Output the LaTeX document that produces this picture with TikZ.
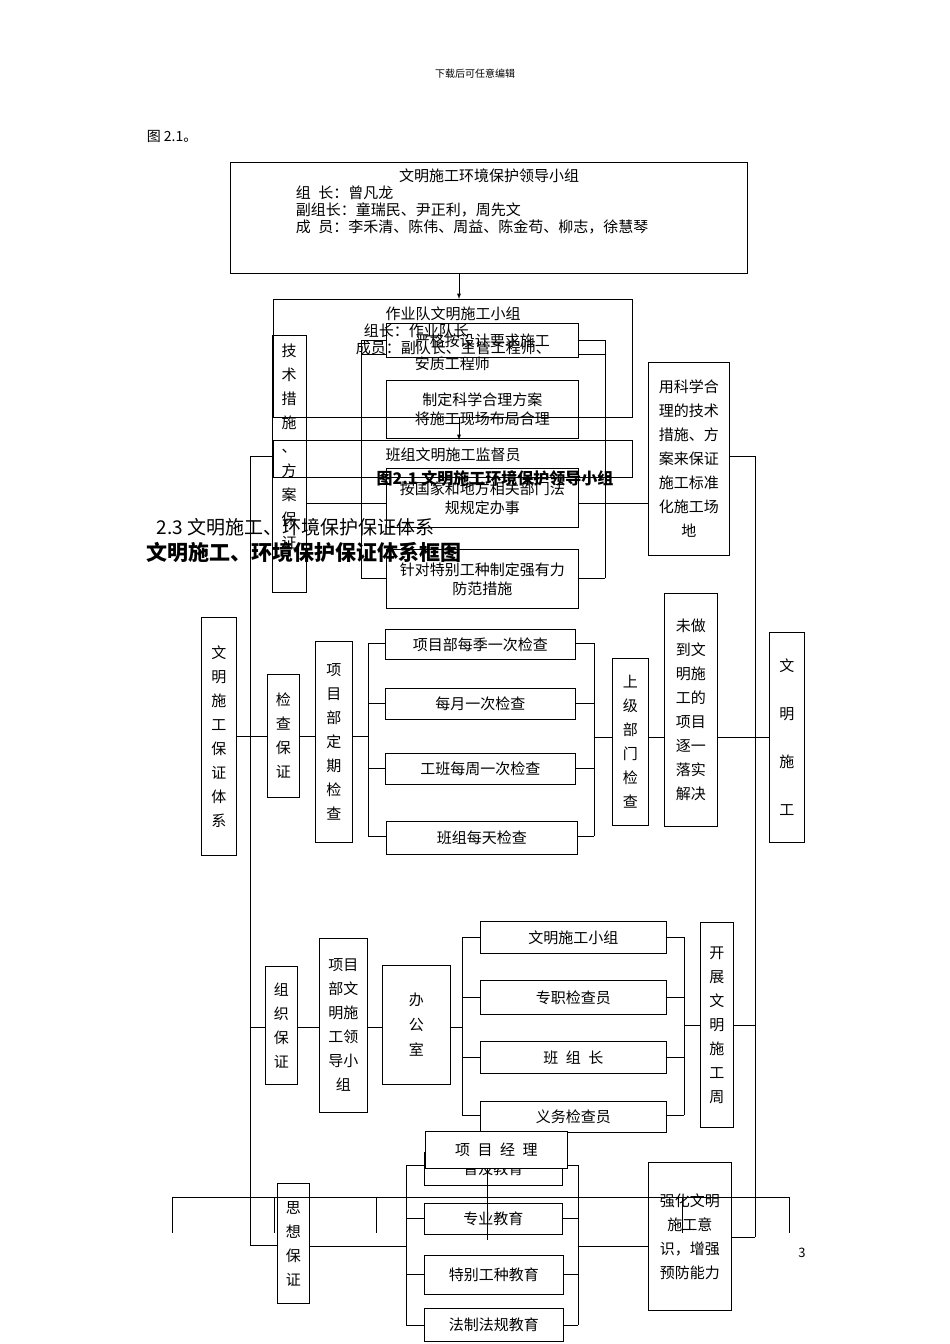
\documentclass[tikz,border=0pt]{standalone}
\usepackage{fontspec}
\setmainfont{Noto Sans CJK SC}
\begin{document}
\begin{tikzpicture}[x=1pt,y=-1pt,line width=0.9pt,
  bx/.style={draw,anchor=north west,inner sep=0pt,align=center,font=\fontsize{15}{19}\selectfont},
  vb/.style={font=\fontsize{15}{24}\selectfont},
  ln/.style={draw}]
\useasboundingbox (0,0) rectangle (950,1344);
\newcommand\bxx[6]{\node[bx,minimum width={(#4-#2)*1pt},minimum height={(#5-#3)*1pt}] (#1) at (#2,#3) {#6};}
\newcommand\vbx[6]{\node[bx,vb,minimum width={(#4-#2)*1pt},minimum height={(#5-#3)*1pt}] (#1) at (#2,#3) {#6};}
\node[font=\fontsize{10}{12}\selectfont] (hd) at (475,74) {下载后可任意编辑};
\node[anchor=west,font=\fontsize{14}{16}\selectfont] (fig) at (143,136) {图 2.1。};
% top leadership
\bxx{A}{230}{162}{747}{273}{}
\node[font=\fontsize{15}{17}\selectfont] (At) at (489,176) {文明施工环境保护领导小组};
\node[anchor=west,font=\fontsize{15}{17}\selectfont,align=left] (Al) at (292,210) {组\enspace 长：曾凡龙\\副组长：童瑞民、尹正利，周先文\\成\enspace 员：李禾清、陈伟、周益、陈金苟、柳志，徐慧琴};
\bxx{B}{273}{299}{632}{417}{}
\node[font=\fontsize{15}{17}\selectfont] (Bt) at (453,314) {作业队文明施工小组};
\node[anchor=west,font=\fontsize{15}{17}\selectfont] (Bl1) at (360,331) {组长：作业队长};
\node[anchor=west,font=\fontsize{15}{17}\selectfont] (Bl2) at (352,348) {成员：副队长、主管工程师、};
\node[anchor=west,font=\fontsize{15}{17}\selectfont] (Bl3) at (411,364) {安质工程师};
\draw[-latex] (A.south -| 459,0) -- (B.north -| 459,0);
\bxx{C}{273}{440}{632}{477}{}
\node[font=\fontsize{15}{17}\selectfont] (Ct) at (453,455) {班组文明施工监督员};
\draw[-latex] (B.south -| 459,0) -- (C.north -| 459,0);
\node[font=\bfseries\fontsize{16}{18}\selectfont] (cap) at (495,478) {图2.1 文明施工环境保护领导小组};
\node[anchor=west,font=\fontsize{19}{21}\selectfont] (h23) at (153,527) {2.3 文明施工、环境保护保证体系};
\node[anchor=west,font=\bfseries\fontsize{21}{23}\selectfont] (h2) at (143,552) {文明施工、环境保护保证体系框图};
% spines
\coordinate (L1) at (250,456); \coordinate (L2) at (250,1245);
\coordinate (R1) at (755,456); \coordinate (R2) at (755,1237);
\draw (L1) -- (L2); \draw (R1) -- (R2);
\vbx{W}{201}{617}{236}{855}{文\\明\\施\\工\\保\\证\\体\\系}
\vbx{WR}{769}{632}{804}{842}{文\\[24pt]明\\[24pt]施\\[24pt]工}
\draw (W.east |- 0,736) -- (250,736);
\draw (WR.west |- 0,737) -- (755,737);
% row1
\node[bx,vb,minimum width=34pt,minimum height=257pt,anchor=north west,text depth=0pt] (T) at (272,335) {};
\node[vb,align=center,anchor=north] (Tt) at (289,340) {技\\术\\措\\施\\、\\方\\案\\保\\证};
\draw (L1) -- (T.west |- L1);
\bxx{T1}{386}{323}{578}{357}{严格按设计要求施工}
\bxx{T2}{386}{380}{578}{438}{制定科学合理方案\\将施工现场布局合理}
\bxx{T3}{386}{468}{578}{527}{按国家和地方相关部门法\\规规定办事}
\bxx{T4}{386}{549}{578}{608}{针对特别工种制定强有力\\防范措施}
\draw (361,340) -- (361,578) (T.east |- 0,503) -- (361,503);
\draw (605,340) -- (605,578);
\foreach \n/\y in {T1/340,T2/354,T3/503,T4/578}{\draw (361,\y) -- (\n.west |- 0,\y); \draw (\n.east |- 0,\y) -- (605,\y);}
\vbx{TR}{648}{362}{729}{555}{用科学合\\理的技术\\措施、方\\案来保证\\施工标准\\化施工场\\地}
\draw (605,503) -- (TR.west |- 0,503);
\draw (TR.east |- R1) -- (R1);
% row2
\vbx{J}{267}{674}{299}{797}{检\\查\\保\\证}
\vbx{JX}{315}{641}{352}{842}{项\\目\\部\\定\\期\\检\\查}
\draw (250,736) -- (J.west |- 0,736) (J.east |- 0,736) -- (JX.west |- 0,736) (JX.east |- 0,736) -- (368,736);
\bxx{J1}{385}{629}{575}{659}{项目部每季一次检查}
\bxx{J2}{385}{688}{575}{719}{每月一次检查}
\bxx{J3}{385}{753}{575}{784}{工班每周一次检查}
\bxx{J4}{386}{821}{577}{854}{班组每天检查}
\draw (368,643) -- (368,836) (594,643) -- (594,836);
\foreach \n/\y in {J1/643,J2/703,J3/768,J4/836}{\draw (368,\y) -- (\n.west |- 0,\y); \draw (\n.east |- 0,\y) -- (594,\y);}
\vbx{JS}{612}{658}{648}{825}{上\\级\\部\\门\\检\\查}
\vbx{JW}{664}{593}{717}{826}{未做\\到文\\明施\\工的\\项目\\逐一\\落实\\解决}
\draw (594,737) -- (JS.west |- 0,737) (JS.east |- 0,737) -- (JW.west |- 0,737) (JW.east |- 0,737) -- (755,737);
% row3
\vbx{Z}{265}{966}{297}{1084}{组\\织\\保\\证}
\vbx{ZX}{319}{938}{367}{1112}{项目\\部文\\明施\\工领\\导小\\组}
\bxx{ZB}{382}{965}{450}{1084}{办\\[6pt]公\\[6pt]室}
\draw (250,1027) -- (Z.west |- 0,1027) (Z.east |- 0,1027) -- (ZX.west |- 0,1027) (ZX.east |- 0,1027) -- (ZB.west |- 0,1027) (ZB.east |- 0,1027) -- (462,1027);
\bxx{Z1}{480}{921}{666}{953}{文明施工小组}
\bxx{Z2}{480}{980}{666}{1014}{专职检查员}
\bxx{Z3}{480}{1041}{666}{1073}{班\enspace 组\enspace 长}
\bxx{Z4}{480}{1101}{666}{1132}{义务检查员}
\draw (462,937) -- (462,1115) (684,937) -- (684,1115);
\foreach \n/\y in {Z1/937,Z2/997,Z3/1057,Z4/1115}{\draw (462,\y) -- (\n.west |- 0,\y); \draw (\n.east |- 0,\y) -- (684,\y);}
\vbx{ZK}{700}{922}{733}{1127}{开\\展\\文\\明\\施\\工\\周}
\draw (684,1025) -- (ZK.west |- 0,1025) (ZK.east |- 0,1025) -- (755,1025);
% row4
\vbx{S}{277}{1183}{309}{1303}{思\\想\\保\\证}
\draw (L2) -- (S.west |- L2);
\bxx{S1}{424}{1152}{562}{1185}{普及教育}
\bxx{S2}{424}{1203}{562}{1234}{专业教育}
\bxx{S3}{424}{1255}{563}{1294}{特别工种教育}
\bxx{S4}{424}{1308}{563}{1341}{法制法规教育}
\draw (S.east |- 0,1246) -- (406,1246);
\draw (406,1165) -- (406,1325) (578,1165) -- (578,1325);
\foreach \n/\y in {S1/1165,S2/1218,S3/1274,S4/1325}{\draw (406,\y) -- (\n.west |- 0,\y); \draw (\n.east |- 0,\y) -- (578,\y);}
\vbx{SQ}{648}{1162}{731}{1310}{强化文明\\施工意\\识，增强\\预防能力}
\draw (578,1246) -- (SQ.west |- 0,1246);
\draw (SQ.east |- R2) -- (R2);
% overlay: project manager
\fill[white] (425,1131) rectangle (567,1168);
\bxx{PM}{425}{1131}{567}{1168}{项\enspace 目\enspace 经\enspace 理}
\draw (172,1197) -- (789,1197);
\foreach \x in {172,274,376,578,682,789}{\draw (\x,1197) -- (\x,1233);}
\draw (PM.south -| 487,0) -- (487,1240);
\node[font=\fontsize{13}{15}\selectfont] (pg) at (802,1253) {3};
\end{tikzpicture}
\end{document}
